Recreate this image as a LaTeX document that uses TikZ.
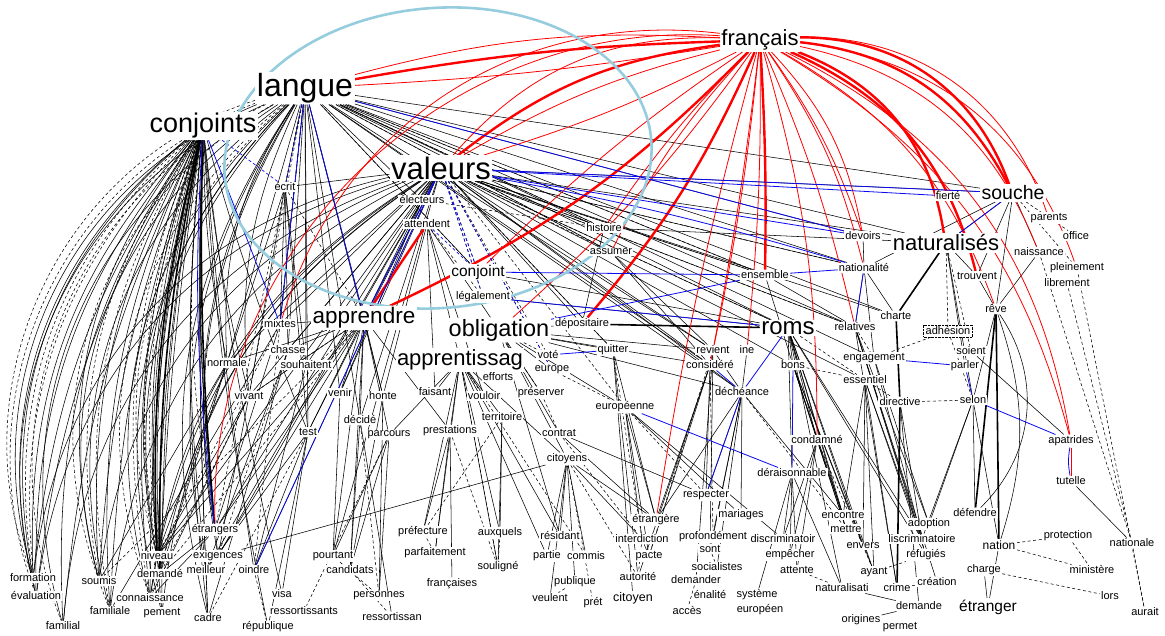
\documentclass[tikz,border=0pt]{standalone}
\usepackage{fontspec}
\setmainfont{Liberation Sans}
\usetikzlibrary{backgrounds}
\definecolor{ell}{RGB}{150,205,222}
\definecolor{myred}{RGB}{255,0,0}
\definecolor{myblue}{RGB}{10,10,240}
\begin{document}
\begin{tikzpicture}[x=1pt,y=1pt,
 lbl/.style={fill=white, inner sep=1.2pt, text=black, font=\fontsize{11}{12}\selectfont},
 bigl/.style={fill=white, inner sep=1.5pt, text=black},
 e/.style={draw=black, line width=0.55pt},
 ek/.style={draw=black, line width=1.6pt},
 ed/.style={draw=black, line width=0.55pt, dash pattern=on 3pt off 2.5pt},
 er/.style={draw=myred, line width=0.8pt},
 erk/.style={draw=myred, line width=2.4pt},
 eb/.style={draw=myblue, line width=0.8pt},
 ebd/.style={draw=myblue, line width=0.7pt, dash pattern=on 3pt off 2.5pt}]
\useasboundingbox (0,0) rectangle (1165,-636);
% ---------- small labels ----------
\node[lbl] (ecrit) at (285,-187) {écrit};
\node[lbl] (electeurs) at (422,-200) {électeurs};
\node[lbl] (attendent) at (427,-224) {attendent};
\node[lbl] (histoire) at (604,-228) {histoire};
\node[lbl] (assumer) at (611,-252) {assumer};
\node[lbl, font=\fontsize{15.5}{17}\selectfont] (conjoint) at (478,-272) {conjoint};
\node[lbl] (legalement) at (483,-297) {légalement};
\node[lbl] (ensemble) at (765,-275) {ensemble};
\node[lbl] (fierte) at (948,-196) {fierté};
\node[lbl] (parents) at (1049,-218) {parents};
\node[lbl] (office) at (1076,-236) {office};
\node[lbl] (naissance) at (1039,-252) {naissance};
\node[lbl] (pleinement) at (1077,-268) {pleinement};
\node[lbl] (librement) at (1067,-283) {librement};
\node[lbl] (devoirs) at (863,-236) {devoirs};
\node[lbl] (nationalite) at (864,-268) {nationalité};
\node[lbl] (trouvent) at (977,-276) {trouvent};
\node[lbl] (reve) at (996,-309) {rêve};
\node[lbl] (charte) at (896,-316) {charte};
\node[lbl] (mixtes) at (280,-324) {mixtes};
\node[lbl] (chasse) at (288,-350) {chasse};
\node[lbl] (souhaitent) at (306,-365) {souhaitent};
\node[lbl] (normale) at (227,-363) {normale};
\node[lbl] (vivant) at (249,-396) {vivant};
\node[lbl] (venir) at (340,-393) {venir};
\node[lbl] (honte) at (383,-396) {honte};
\node[lbl] (faisant) at (435,-392) {faisant};
\node[lbl] (vouloir) at (484,-396) {vouloir};
\node[lbl] (efforts) at (498,-377) {efforts};
\node[lbl] (vote) at (548,-355) {voté};
\node[lbl] (europe) at (552,-370) {europe};
\node[lbl] (preserver) at (541,-393) {préserver};
\node[lbl] (territoire) at (502,-417) {territoire};
\node[lbl] (decide) at (360,-420) {décidé};
\node[lbl] (test) at (308,-432) {test};
\node[lbl] (parcours) at (389,-435) {parcours};
\node[lbl] (prestations) at (450,-431) {prestations};
\node[lbl] (contrat) at (559,-433) {contrat};
\node[lbl] (citoyens) at (567,-459) {citoyens};
\node[lbl] (depositaire) at (582,-324) {dépositaire};
\node[lbl] (quitter) at (613,-350) {quitter};
\node[lbl] (revient) at (713,-350) {revient};
\node[lbl] (ine) at (747,-350) {ine};
\node[lbl] (considere) at (710,-365) {considéré};
\node[lbl] (bons) at (793,-365) {bons};
\node[lbl] (decheance) at (742,-392) {déchéance};
\node[lbl] (europeenne) at (625,-407) {européenne};
\node[lbl] (relatives) at (855,-327) {relatives};
\node[lbl] (engagement) at (874,-358) {engagement};
\node[lbl] (essentiel) at (865,-380) {essentiel};
\node[lbl] (directive) at (900,-402) {directive};
\node[lbl] (condamne) at (817,-440) {condamné};
\node[lbl] (deraisonnable) at (792,-473) {déraisonnable};
\node[lbl, draw=black, densely dotted, inner sep=2pt] (adhesion) at (948,-331) {adhésion};
\node[lbl] (soient) at (971,-351) {soient};
\node[lbl] (parler) at (965,-366) {parler};
\node[lbl] (selon) at (973,-400) {selon};
\node[lbl] (apatrides) at (1071,-441) {apatrides};
\node[lbl] (tutelle) at (1071,-481) {tutelle};
\node[lbl] (adoption) at (929,-524) {adoption};
\node[lbl] (defendre) at (975,-513) {défendre};
\node[lbl] (formation) at (33,-578) {formation};
\node[lbl] (evaluation) at (36,-596) {évaluation};
\node[lbl] (familial) at (63,-626) {familial};
\node[lbl] (soumis) at (99,-581) {soumis};
\node[lbl] (familiale) at (110,-611) {familiale};
\node[lbl] (connaissance) at (150,-598) {connaissance};
\node[lbl] (pement) at (162,-613) {pement};
\node[lbl] (niveau) at (157,-556) {niveau};
\node[lbl] (demande) at (160,-574) {demandé};
\node[lbl] (etrangers) at (215,-530) {étrangers};
\node[lbl] (exigences) at (218,-556) {exigences};
\node[lbl] (meilleur) at (206,-570) {meilleur};
\node[lbl] (oindre) at (254,-570) {oindre};
\node[lbl] (cadre) at (208,-618) {cadre};
\node[lbl] (republique) at (268,-627) {république};
\node[lbl] (visa) at (282,-594) {visa};
\node[lbl] (ressortissants) at (304,-611) {ressortissants};
\node[lbl] (pourtant) at (333,-556) {pourtant};
\node[lbl] (candidats) at (350,-570) {candidats};
\node[lbl] (personnes) at (379,-596) {personnes};
\node[lbl] (ressortissan) at (392,-617) {ressortissan};
\node[lbl] (prefecture) at (423,-532) {préfecture};
\node[lbl] (parfaitement) at (435,-553) {parfaitement};
\node[lbl] (francaises) at (452,-584) {françaises};
\node[lbl] (auxquels) at (500,-533) {auxquels};
\node[lbl] (souligne) at (498,-567) {souligné};
\node[lbl] (residant) at (560,-536) {résidant};
\node[lbl] (partie) at (547,-556) {partie};
\node[lbl] (commis) at (586,-556) {commis};
\node[lbl] (publique) at (575,-582) {publique};
\node[lbl] (veulent) at (550,-598) {veulent};
\node[lbl] (pret) at (593,-603) {prét};
\node[lbl, font=\fontsize{12.5}{14}\selectfont] (citoyen) at (633,-598) {citoyen};
\node[lbl] (etrangere) at (656,-520) {étrangère};
\node[lbl] (interdiction) at (642,-539) {interdiction};
\node[lbl] (pacte) at (649,-556) {pacte};
\node[lbl] (autorite) at (638,-577) {autorité};
\node[lbl] (respecter) at (706,-495) {respecter};
\node[lbl] (mariages) at (741,-515) {mariages};
\node[lbl] (profondement) at (713,-537) {profondément};
\node[lbl] (sont) at (710,-549) {sont};
\node[lbl] (socialistes) at (717,-567) {socialistes};
\node[lbl] (demander) at (696,-580) {demander};
\node[lbl] (enalite) at (710,-595) {énalité};
\node[lbl] (acces) at (687,-611) {accès};
\node[lbl] (systeme) at (757,-595) {système};
\node[lbl] (europeen) at (760,-610) {européen};
\node[lbl] (discriminatoir) at (783,-539) {discriminatoir};
\node[lbl] (empecher) at (790,-555) {empêcher};
\node[lbl] (attente) at (797,-570) {attente};
\node[lbl] (encontre) at (843,-515) {encontre};
\node[lbl] (mettre) at (846,-529) {mettre};
\node[lbl] (envers) at (863,-546) {envers};
\node[lbl] (liscriminatoire) at (922,-539) {liscriminatoire};
\node[lbl] (refugies) at (926,-555) {réfugiés};
\node[lbl] (ayant) at (874,-572) {ayant};
\node[lbl] (naturalisati) at (842,-588) {naturalisati};
\node[lbl] (crime) at (897,-588) {crime};
\node[lbl] (creation) at (937,-582) {création};
\node[lbl] (demandeB) at (919,-606) {demande};
\node[lbl] (origines) at (861,-620) {origines};
\node[lbl] (permet) at (900,-627) {permet};
\node[lbl] (charge) at (984,-570) {charge};
\node[lbl, font=\fontsize{12}{14}\selectfont] (nation) at (999,-545) {nation};
\node[lbl] (protection) at (1068,-536) {protection};
\node[lbl] (nationale) at (1132,-543) {nationale};
\node[lbl] (ministere) at (1092,-570) {ministère};
\node[lbl] (lors) at (1110,-596) {lors};
\node[lbl] (aurait) at (1145,-612) {aurait};
\node[lbl, font=\fontsize{15.5}{17}\selectfont] (ET) at (988,-607) {étranger};
% ---------- big labels ----------
\node[bigl, font=\fontsize{22}{24}\selectfont] (F) at (760,-40) {français};
\node[bigl, font=\fontsize{32}{34}\selectfont] (L) at (305,-88) {langue};
\node[bigl, font=\fontsize{27}{29}\selectfont] (C) at (203,-126) {conjoints};
\node[bigl, font=\fontsize{31}{33}\selectfont] (V) at (441,-168) {valeurs};
\node[bigl, font=\fontsize{22.5}{24}\selectfont] (AP) at (364,-318) {apprendre};
\node[bigl, font=\fontsize{23.5}{25}\selectfont] (OB) at (499,-330) {obligation};
\node[bigl, font=\fontsize{22}{24}\selectfont] (AS) at (460,-360) {apprentissag};
\node[bigl, font=\fontsize{24}{26}\selectfont] (R) at (788,-328) {roms};
\node[bigl, font=\fontsize{22}{24}\selectfont] (N) at (946,-243) {naturalisés};
\node[bigl, font=\fontsize{19.5}{21}\selectfont] (S) at (1013,-193) {souche};
% ---------- edges ----------
\begin{pgfonlayer}{background}
\fill[white] (0,0) rectangle (1165,-636);
% curved fans to the bottom left
\foreach \t/\b in {formation/42, evaluation/40, familial/38, soumis/36, familiale/34, connaissance/31, pement/30, niveau/28, demande/27, etrangers/20, exigences/20, cadre/24, meilleur/22, normale/18, vivant/15}
  \draw[e] (L) to[bend right=\b] (\t);
\foreach \t/\b in {formation/47, evaluation/45, familial/43, soumis/40, connaissance/35, niveau/32}
  \draw[ed] (L) to[bend right=\b] (\t);
\foreach \t/\b in {formation/22, evaluation/20, familial/18, soumis/16, familiale/14, connaissance/12, pement/10, niveau/10, demande/8, etrangers/4, exigences/4, meilleur/6, cadre/6, normale/5, vivant/4, test/3, oindre/2, republique/4, visa/3}
  \draw[e] (C) to[bend right=\b] (\t);
\foreach \t/\b in {formation/14, evaluation/12, familial/10, soumis/9, familiale/8, connaissance/6, pement/5, niveau/4, demande/3, cadre/2, meilleur/2, formation/30, soumis/26, evaluation/32}
  \draw[e] (C) to[bend right=\b] (\t);
\foreach \t/\b in {formation/28, evaluation/26, soumis/22, familiale/20, connaissance/16, niveau/14, demande/12, etrangers/8, pement/14}
  \draw[ed] (C) to[bend right=\b] (\t);
\foreach \t/\b in {formation/35, evaluation/33, soumis/30, familiale/28, connaissance/25, niveau/22, demande/22, pement/25, familial/33}
  \draw[e] (V) to[bend right=\b] (\t);
\draw[ek] (C) to[bend right=3] (etrangers);
\draw[ek] (C) to[bend right=8] (niveau);
\draw[ek] (C) to[bend right=6] (demande);
% straight black edges
\foreach \a/\b in {L/ecrit, L/mixtes, L/chasse, L/souhaitent, L/AP, L/normale, L/test, L/venir, L/decide, L/honte, L/electeurs,
 L/N, L/nationalite, L/devoirs, L/ensemble, L/R, L/relatives, L/histoire, L/assumer, L/decheance, L/considere, L/charte, L/engagement, L/revient, L/S, L/conjoint,
 V/mixtes, V/chasse, V/souhaitent, V/normale, V/vivant, V/test, V/venir, V/decide, V/etrangers, V/exigences, V/oindre, V/AP, V/ecrit, V/meilleur, V/niveau, V/pourtant,
 V/N, V/nationalite, V/S, V/ensemble, V/histoire, V/depositaire, V/quitter, V/revient, V/considere, V/decheance, V/R, V/bons, V/relatives, V/charte, V/essentiel,
 ecrit/mixtes, ecrit/chasse, ecrit/souhaitent, ecrit/test, ecrit/normale, ecrit/vivant,
 attendent/AP, attendent/OB, attendent/honte, attendent/faisant, attendent/AS, attendent/vouloir, electeurs/AP, electeurs/venir,
 AP/venir, AP/honte, AP/decide, AP/test, AP/parcours, AP/normale, AP/chasse, AP/mixtes, AP/vivant, AP/prestations, AP/pourtant, AP/candidats, AP/etrangers, AP/exigences, AP/niveau,
 OB/depositaire, OB/quitter, OB/europe, OB/preserver, OB/contrat, OB/citoyens, OB/residant, OB/revient, OB/considere, OB/decheance, OB/europeenne,
 AS/efforts, AS/vouloir, AS/faisant, AS/territoire, AS/prestations, AS/parcours, AS/auxquels, AS/souligne, AS/prefecture, AS/citoyens, AS/residant, AS/partie, AS/parfaitement,
 citoyens/residant, citoyens/partie, citoyens/commis, citoyens/publique, citoyens/veulent, citoyens/interdiction, citoyens/etrangere,
 contrat/etrangere, contrat/respecter, territoire/auxquels, territoire/souligne, prestations/parfaitement, prestations/prefecture, prestations/francaises,
 parcours/pourtant, parcours/candidats, parcours/personnes, test/visa, test/oindre, test/republique, test/meilleur, decide/candidats, decide/ressortissan,
 vivant/exigences, vivant/niveau, vivant/connaissance, normale/niveau, normale/demande, normale/soumis, mixtes/etrangers, mixtes/familiale,
 chasse/meilleur, chasse/cadre, souhaitent/oindre, venir/pourtant, honte/personnes, honte/candidats, exigences/citoyens, etrangers/connaissance, etrangers/demande, niveau/connaissance,
 europeenne/etrangere, europeenne/interdiction, europeenne/pacte, europeenne/mariages, europeenne/discriminatoir,
 decheance/respecter, decheance/mariages, decheance/profondement, decheance/sont, decheance/socialistes, decheance/etrangere, decheance/encontre,
 considere/respecter, considere/etrangere, considere/pacte, considere/autorite, revient/demander, revient/sont, quitter/etrangere, quitter/autorite, quitter/citoyen,
 R/bons, R/condamne, R/deraisonnable, R/encontre, R/mettre, R/envers, R/liscriminatoire, R/refugies, R/ayant, R/naturalisati,
 bons/condamne, bons/encontre, bons/mettre, bons/envers, bons/ayant, relatives/liscriminatoire, relatives/refugies, relatives/adoption, relatives/creation, relatives/crime,
 engagement/liscriminatoire, engagement/adoption, essentiel/liscriminatoire, essentiel/refugies, essentiel/crime, essentiel/envers, essentiel/ayant, essentiel/encontre,
 directive/demandeB, directive/liscriminatoire,
 condamne/discriminatoir, condamne/empecher, condamne/attente, condamne/encontre, condamne/mettre,
 deraisonnable/empecher, deraisonnable/systeme, deraisonnable/attente, deraisonnable/discriminatoir, deraisonnable/naturalisati,
 nationalite/relatives, nationalite/charte, nationalite/engagement, nationalite/S, ensemble/relatives, ensemble/bons, devoirs/nationalite,
 N/selon, N/trouvent, N/parler, N/S, soient/apatrides, reve/selon, selon/defendre, selon/nation, selon/liscriminatoire, selon/adoption,
 trouvent/reve, naissance/reve, S/trouvent, S/naissance, S/reve, ET/charge, ET/nation, tutelle/nationale, origines/demandeB, naturalisati/demandeB, interdiction/pacte,
 conjoint/R, legalement/R, histoire/depositaire, assumer/revient, assumer/considere, histoire/N, ine/decheance, revient/decheance}
  \draw[e] (\a) -- (\b);
\foreach \a/\b in {depositaire/R, reve/nation, charte/directive, N/charte, directive/crime, reve/defendre}
  \draw[ek] (\a) -- (\b);
\draw[e] (reve) to[bend left=40] (defendre);
\draw[e] (reve) to[bend left=18] (nation);
% dashed black edges
\foreach \a/\b in {L/ecrit, L/mixtes, L/vivant, L/etrangers, L/oindre, L/histoire, L/assumer, L/conjoint, L/ensemble,
 V/histoire, V/assumer, V/conjoint, V/legalement, V/ensemble, V/R, V/europe, V/vote, V/quitter, V/europeenne, V/nationalite, V/relatives,
 AP/vivant, AP/demande, AP/soumis, OB/vote, OB/preserver, AS/commis, AS/souligne, citoyens/pret, citoyens/autorite, contrat/interdiction, territoire/prefecture,
 prestations/souligne, parcours/ressortissants, decide/personnes, test/cadre, vivant/demande, normale/connaissance, mixtes/niveau, chasse/exigences,
 europe/europeenne, preserver/contrat, europeenne/respecter, decheance/mettre, considere/profondement, quitter/interdiction, revient/pacte, bons/essentiel,
 relatives/engagement, essentiel/directive, directive/selon, adhesion/selon, adhesion/engagement, N/adhesion, N/soient,
 naissance/nationale, librement/nationale, nationale/aurait, pleinement/aurait, nation/ministere, charge/lors, nation/protection, protection/ministere,
 crime/creation, ayant/refugies, envers/ayant, R/essentiel, condamne/envers, attente/naturalisati, demander/acces, sont/socialistes,
 interdiction/autorite, publique/veulent, auxquels/souligne, prefecture/parfaitement, pourtant/personnes, candidats/ressortissan, oindre/republique, meilleur/cadre,
 soumis/familiale, electeurs/histoire, attendent/legalement, ecrit/AP, S/office, S/pleinement}
  \draw[ed] (\a) -- (\b);
% red edges
\foreach \a/\b/\c in {F/L/4, F/V/15}
  \draw[erk] (\a) to[bend right=\c] (\b);
\foreach \a/\b/\c in {F/AP/10, F/depositaire/8, F/ensemble/2, F/N/30, F/S/35, F/S/28, F/trouvent/26}
  \draw[erk] (\a) to[bend left=\c] (\b);
\draw[erk] (attendent) -- (AP);
\foreach \a/\b/\c in {F/L/9, F/V/8, F/V/25, F/histoire/5, F/assumer/8, F/etrangere/3, F/etrangers/48, F/mixtes/40, F/conjoint/5}
  \draw[er] (\a) to[bend right=\c] (\b);
\foreach \a/\b/\c in {F/L/3, F/V/5, F/revient/2, F/ine/3, F/considere/3, F/devoirs/8, F/nationalite/10, F/devoirs/16, F/relatives/5, F/condamne/8, F/naissance/28, F/apatrides/22, F/apatrides/27, F/parents/36, F/pleinement/32, F/reve/20, F/OB/6}
  \draw[er] (\a) to[bend left=\c] (\b);
\draw[er] (apatrides) -- (tutelle);
% blue edges
\foreach \a/\b in {V/fierte, V/devoirs, L/devoirs, ensemble/nationalite, conjoint/ensemble, legalement/R, nationalite/relatives, C/mixtes, L/mixtes, L/AP, V/AP,
 europeenne/deraisonnable, decheance/respecter, bons/deraisonnable, R/decheance, vote/quitter, OB/ensemble, engagement/parler, parler/selon, selon/apatrides,
 N/S, V/oindre, considere/decheance, V/S}
  \draw[eb] (\a) -- (\b);
\draw[eb] (V) to[bend left=3] (nationalite);
\draw[eb] (C) to[bend right=5] (etrangers);
\draw[eb] (apatrides) to[bend right=10] (tutelle);
\foreach \a/\b in {L/ecrit, V/conjoint, V/legalement, attendent/conjoint, C/ecrit, V/europe}
  \draw[ebd] (\a) -- (\b);
% highlight ellipse
\draw[ell, line width=2.6pt, rotate around={5:(438,-158)}] (438,-158) ellipse [x radius=214, y radius=150];
\end{pgfonlayer}
\end{tikzpicture}
\end{document}
